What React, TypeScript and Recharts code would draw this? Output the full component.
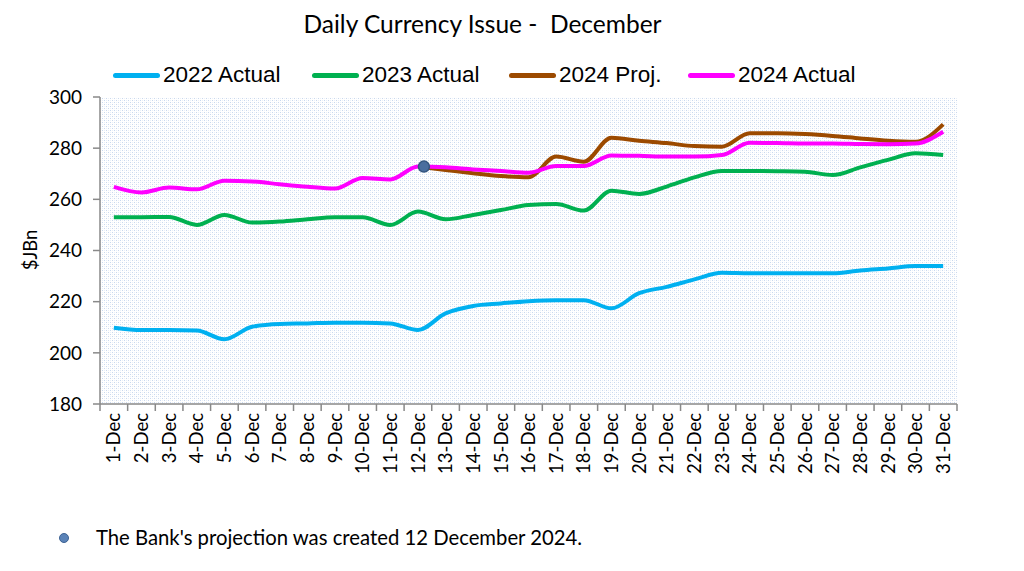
import React from 'react';
import { LineChart, Line, XAxis, YAxis, CartesianGrid } from 'recharts';

const days = ['1-Dec','2-Dec','3-Dec','4-Dec','5-Dec','6-Dec','7-Dec','8-Dec','9-Dec','10-Dec','11-Dec','12-Dec','13-Dec','14-Dec','15-Dec','16-Dec','17-Dec','18-Dec','19-Dec','20-Dec','21-Dec','22-Dec','23-Dec','24-Dec','25-Dec','26-Dec','27-Dec','28-Dec','29-Dec','30-Dec','31-Dec'];

const actual2022 = [209.8, 208.9, 208.9, 208.7, 205.3, 210.2, 211.3, 211.5, 211.8, 211.8, 211.5, 208.9, 215.4, 218.3, 219.3, 220.2, 220.6, 220.6, 217.4, 223.3, 225.8, 228.7, 231.3, 231.1, 231.1, 231.1, 231.1, 232.2, 233.0, 233.9, 233.9];
const actual2023 = [253.0, 253.0, 253.1, 250.0, 253.9, 250.9, 251.3, 252.2, 253.0, 253.0, 250.0, 255.2, 252.2, 253.9, 255.8, 257.8, 258.2, 255.6, 263.4, 262.1, 265.0, 268.6, 271.1, 271.1, 271.0, 270.8, 269.5, 272.5, 275.4, 278.0, 277.3];
const proj2024: (number | null)[] = [null, null, null, null, null, null, null, null, null, null, null, 272.8, 271.5, 270.2, 269.1, 268.6, 276.7, 274.7, 284.1, 282.9, 282.0, 280.8, 280.6, 285.8, 285.8, 285.5, 284.8, 283.8, 282.9, 282.5, 289.3];
const actual2024 = [264.9, 262.7, 264.6, 263.9, 267.3, 267.0, 265.9, 264.9, 264.2, 268.3, 267.8, 272.8, 272.5, 271.7, 271.1, 270.4, 273.0, 273.0, 277.1, 277.0, 276.7, 276.7, 277.3, 282.1, 282.0, 281.8, 281.8, 281.6, 281.5, 281.8, 286.4];
const projMarker: (number | null)[] = days.map((_, i) => (i === 11 ? proj2024[11] : null));

const yTicks = [180, 200, 220, 240, 260, 280, 300];

const seriesInfo = [
  { key: 'a2022', name: '2022 Actual', color: '#00B0F0' },
  { key: 'a2023', name: '2023 Actual', color: '#00B050' },
  { key: 'p2024', name: '2024 Proj.', color: '#9C4A00' },
  { key: 'a2024', name: '2024 Actual', color: '#FF00FF' },
];

const data = days.map((d, i) => ({
  day: d,
  a2022: actual2022[i],
  a2023: actual2023[i],
  p2024: proj2024[i],
  a2024: actual2024[i],
  marker: projMarker[i],
}));

const W = 1008;
const H = 500;
const PLOT_LEFT = 92;
const PLOT_RIGHT = 949;
const STEP = (PLOT_RIGHT - PLOT_LEFT) / days.length;
const AXIS = '#898989';
const FONT = 'Lato, "Noto Sans", sans-serif';

const XTick = (props: any) => {
  const { x, y, payload, index } = props;
  const half = STEP / 2;
  return (
    <g>
      <line x1={x - half} y1={y} x2={x - half} y2={y + 7} stroke={AXIS} strokeWidth={1.5} />
      {index === days.length - 1 && (
        <line x1={x + half} y1={y} x2={x + half} y2={y + 7} stroke={AXIS} strokeWidth={1.5} />
      )}
      <text
        transform={`translate(${x},${y + 9}) rotate(-90)`}
        textAnchor="end"
        dy="0.36em"
        fontSize={18.5}
        fontFamily={FONT}
        fill="#000"
      >
        {payload.value}
      </text>
    </g>
  );
};

const MarkerDot = (props: any) => {
  const { cx, cy, value } = props;
  if (value == null || cx == null || cy == null) return <g />;
  return <circle cx={cx + 6} cy={cy} r={5.5} fill="#4A6E9E" stroke="#34567F" strokeWidth={1.5} />;
};

export default function App() {
  return (
    <div style={{ position: 'relative', width: W, height: 555, background: '#fff', fontFamily: FONT }}>
      <svg width={0} height={0} style={{ position: 'absolute' }}>
        <defs>
          <pattern id="dots" width="4" height="4" patternUnits="userSpaceOnUse">
            <rect width="4" height="4" fill="#ffffff" />
            <rect x="0" y="0" width="1" height="1" fill="#c9d8ee" />
            <rect x="2" y="2" width="1" height="1" fill="#c9d8ee" />
            <rect x="2" y="0" width="1" height="1" fill="#eaf0f8" />
            <rect x="0" y="2" width="1" height="1" fill="#eaf0f8" />
          </pattern>
        </defs>
      </svg>
      <div
        style={{
          position: 'absolute', left: 0, width: 949, top: 3, textAlign: 'center',
          fontSize: 24.5, lineHeight: '26px', color: '#000', whiteSpace: 'pre',
        }}
      >
        {'Daily Currency Issue -  December'}
      </div>
      <div style={{ position: 'absolute', top: 55, left: 0, height: 24 }}>
        {seriesInfo.map((s, i) => {
          const lefts = [105, 304, 501, 680];
          return (
            <div key={s.key} style={{ position: 'absolute', left: lefts[i], top: 0, display: 'flex', alignItems: 'center', whiteSpace: 'nowrap' }}>
              <div style={{ width: 47, height: 5, borderRadius: 3, background: s.color, marginRight: 3 }} />
              <span style={{ fontFamily: '"Liberation Sans", Arial, sans-serif', fontSize: 22.5, lineHeight: '24px', color: '#000' }}>{s.name}</span>
            </div>
          );
        })}
      </div>
      <div
        style={{
          position: 'absolute', left: 22, top: 242, transform: 'translate(-50%,-50%) rotate(-90deg)',
          fontSize: 18.5, color: '#000', whiteSpace: 'nowrap',
        }}
      >
        $JBn
      </div>
      <div style={{ position: 'absolute', left: 0, top: 0 }}>
        <LineChart width={W} height={H} data={data} margin={{ top: 89, right: W - PLOT_RIGHT, bottom: 24, left: 0 }}>
          <CartesianGrid horizontal={false} vertical={false} fill="url(#dots)" />
          <XAxis
            dataKey="day"
            scale="point"
            padding={{ left: STEP / 2, right: STEP / 2 }}
            interval={0}
            tickLine={false}
            tickSize={0}
            tickMargin={0}
            height={80}
            axisLine={{ stroke: AXIS, strokeWidth: 1.5 }}
            tick={<XTick />}
          />
          <YAxis
            domain={[180, 300]}
            ticks={yTicks}
            width={PLOT_LEFT}
            tickSize={7}
            tickMargin={11}
            axisLine={{ stroke: AXIS, strokeWidth: 1.5 }}
            tickLine={{ stroke: AXIS, strokeWidth: 1.5 }}
            tick={{ fontSize: 19, fontFamily: FONT, fill: '#000' }}
            allowDataOverflow
          />
          {seriesInfo.map((s) => (
            <Line
              key={s.key}
              type="monotone"
              dataKey={s.key}
              name={s.name}
              stroke={s.color}
              strokeWidth={4}
              dot={false}
              activeDot={false}
              connectNulls={false}
              isAnimationActive={false}
            />
          ))}
          <Line
            dataKey="marker"
            stroke="none"
            dot={<MarkerDot />}
            activeDot={false}
            legendType="none"
            isAnimationActive={false}
          />
        </LineChart>
      </div>
      <div
        style={{
          position: 'absolute', left: 51, top: 525, width: 10, height: 10, borderRadius: '50%',
          background: '#5B83B8', border: '1px solid #3E6394', boxSizing: 'border-box',
        }}
      />
      <div style={{ position: 'absolute', left: 88, top: 517, fontSize: 20.3, lineHeight: '24px', color: '#000', whiteSpace: 'nowrap' }}>
        The Bank's projection was created 12 December 2024.
      </div>
    </div>
  );
}
